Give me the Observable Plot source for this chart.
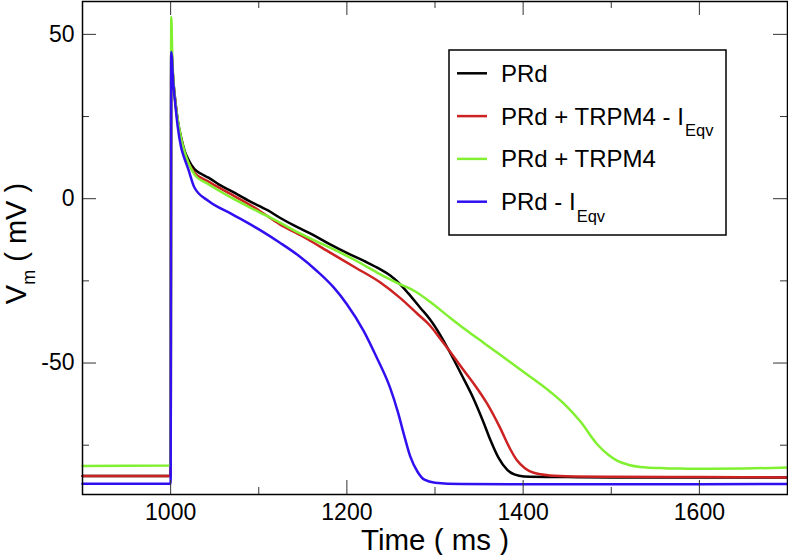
<!DOCTYPE html>
<html><head><meta charset="utf-8">
<script src="https://cdn.jsdelivr.net/npm/d3@7"></script>
<script src="https://cdn.jsdelivr.net/npm/@observablehq/plot@0.6"></script>
<style>body{margin:0;background:#fff;} #chart{position:relative;width:788px;height:555px;}</style>
</head><body><div id="chart"></div>
<script>
// ---- data ----
const seriesNames = ["PRd", "PRd + TRPM4 - I", "PRd + TRPM4", "PRd - I"];
const seriesSubs = ["", "Eqv", "", "Eqv"];
const seriesColors = ["#000000", "#cc2222", "#80f030", "#3010f0"];

const tPRd = [900,1000,1000.7,1003,1005,1008,1012,1016,1020,1027,1035,1043,1055,1069,1090,1110,1124,1141,1160,1181,1200,1220,1238,1250,1260,1270,1283,1294,1306,1317,1330,1344,1355,1363,1372,1382,1390,1401,1450,1500,1600,1700];
const vPRd = [-84.4,-84.4,45,36,30.5,24,18.5,14.5,12,9,7.5,6.4,4.3,2.3,-0.8,-3.5,-5.8,-8.3,-10.8,-13.9,-16.5,-19,-21.5,-23.5,-25.9,-28.9,-33.1,-36.6,-41.5,-46.8,-53.5,-61,-68,-73.5,-78.8,-82.5,-83.9,-84.5,-84.7,-84.8,-84.8,-84.8];

const tTrpmMinus = [900,1000,1000.7,1003,1005,1008,1012,1016,1020,1027,1043,1069,1100,1124,1150,1181,1210,1238,1260,1280,1294,1306,1317,1330,1344,1359,1374,1385,1393,1402,1412,1430,1457,1500,1600,1700];
const vTrpmMinus = [-84.4,-84.4,45,36,30.5,23.5,18,13.5,11,7.9,5.2,1.3,-3.5,-7.8,-11.5,-16.4,-21,-25.5,-30.1,-35,-38.5,-42.6,-46.5,-51.3,-56.3,-62.3,-69.8,-76,-79.6,-82,-83.4,-84.2,-84.5,-84.6,-84.7,-84.8];

const tTrpm = [900,1000,1000.7,1002,1004,1006,1010,1014,1020,1027,1043,1069,1100,1124,1141,1160,1181,1210,1238,1257,1280,1294,1317,1336,1355,1374,1401,1431,1446,1465,1484,1497,1507,1520,1533,1560,1579,1600,1650,1700];
const vTrpm = [-81.3,-81.2,55.3,42,33,28,21,16,11,7.4,4.4,0.3,-4,-7.3,-9.8,-12.3,-14.9,-18.8,-23,-25.6,-28.6,-31.3,-36.2,-40.1,-43.8,-47.5,-52.8,-58.8,-62.3,-67.8,-74.7,-78,-79.8,-81,-81.6,-82,-82.1,-82.2,-82.1,-81.8];

const tMinus = [900,1000,1000.7,1003,1005,1008,1012,1016,1020,1027,1043,1069,1103,1124,1145,1166,1185,1200,1219,1234,1249,1258,1265,1272,1280,1288,1300,1330,1400,1500,1600,1700];
const vMinus = [-86.7,-86.7,44.6,35,29.5,22,15.5,12,9,3.4,-0.7,-4.6,-9.8,-13.4,-17.3,-22,-27,-32.1,-40.2,-48.4,-57.5,-65,-72,-78.5,-83,-85.5,-86.4,-86.8,-86.9,-86.9,-86.9,-86.8];

const xMajorTicks = [1000, 1200, 1400, 1600];
const xMinorTicks = [1100, 1300, 1500];
const yMajorTicks = [-50, 0, 50];
const yMinorTicks = [-75, -25, 25];

// ---- layout ----
const W = 788, H = 555, mL = 82, mR = 1, mT = 1, mB = 61;
const pH = H - mT - mB, pW = W - mL - mR;
const font = "Liberation Sans, Arial, Helvetica, sans-serif";

const allT = [tPRd, tTrpmMinus, tTrpm, tMinus];
const allV = [vPRd, vTrpmMinus, vTrpm, vMinus];
const lineMarks = allT.map((ts, i) =>
  Plot.line(ts.map((t, j) => ({t, v: allV[i][j]})), {
    x: "t", y: "v", stroke: seriesColors[i], strokeWidth: 2.5, curve: "monotone-x"
  })
);

const tickStroke = "#333";
const chart = Plot.plot({
  width: W, height: H,
  marginLeft: mL, marginRight: mR, marginTop: mT, marginBottom: mB,
  x: {domain: [900, 1700]},
  y: {domain: [-90, 60]},
  style: {fontFamily: font, background: "white", color: "black"},
  marks: [
    ...lineMarks,
    Plot.tickX(xMajorTicks, {x: d => d, insetTop: pH - 14, stroke: tickStroke}),
    Plot.tickX(xMinorTicks, {x: d => d, insetTop: pH - 7, stroke: tickStroke}),
    Plot.tickX(xMajorTicks, {x: d => d, insetBottom: pH - 14, stroke: tickStroke}),
    Plot.tickX(xMinorTicks, {x: d => d, insetBottom: pH - 7, stroke: tickStroke}),
    Plot.tickY(yMajorTicks, {y: d => d, insetRight: pW - 14, stroke: tickStroke}),
    Plot.tickY(yMinorTicks, {y: d => d, insetRight: pW - 7, stroke: tickStroke}),
    Plot.tickY(yMajorTicks, {y: d => d, insetLeft: pW - 14, stroke: tickStroke}),
    Plot.tickY(yMinorTicks, {y: d => d, insetLeft: pW - 7, stroke: tickStroke}),
    Plot.frame({stroke: "black", strokeWidth: 1.5}),
    Plot.axisX({ticks: xMajorTicks, tickSize: 0, tickPadding: 9, fontSize: 23, label: null, tickFormat: d => String(d)}),
    Plot.axisY({ticks: yMajorTicks, tickSize: 0, tickPadding: 8, fontSize: 23, label: null, tickFormat: d => String(d)})
  ]
});
document.getElementById("chart").appendChild(chart);

// ---- axis titles ----
const svg = d3.select(chart);
svg.append("text")
  .attr("x", 435).attr("y", 550)
  .attr("text-anchor", "middle")
  .attr("font-family", font).attr("font-size", 29.5).attr("fill", "black")
  .text("Time ( ms )");

const yl = svg.append("text")
  .attr("transform", "translate(26,243.5) rotate(-90)")
  .attr("text-anchor", "middle")
  .attr("font-family", font).attr("font-size", 29).attr("fill", "black");
yl.append("tspan").text("V");
yl.append("tspan").attr("font-size", 18).attr("dy", 9).text("m");
yl.append("tspan").attr("dy", -9).text(" ( mV )");

// ---- legend ----
const lg = svg.append("g").attr("font-family", font).attr("text-anchor", "start");
lg.append("rect").attr("x", 449).attr("y", 50).attr("width", 277).attr("height", 185)
  .attr("fill", "white").attr("stroke", "black").attr("stroke-width", 1.5);
seriesNames.forEach((name, i) => {
  const ly = 73.3 + i * 42.8;
  lg.append("line").attr("x1", 457).attr("x2", 487).attr("y1", ly).attr("y2", ly)
    .attr("stroke", seriesColors[i]).attr("stroke-width", 2.5);
  const tx = lg.append("text").attr("x", 501).attr("y", ly + 8.5)
    .attr("text-anchor", "start")
    .attr("font-size", 24).attr("fill", "black");
  tx.append("tspan").text(name);
  if (seriesSubs[i]) tx.append("tspan").attr("font-size", 16.5).attr("dx", 1).attr("dy", 11.5).text(seriesSubs[i]);
});
</script>
</body></html>
